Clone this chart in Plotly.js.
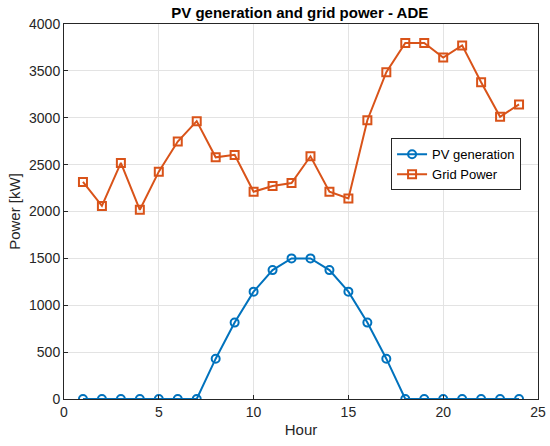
<!DOCTYPE html>
<html>
<head>
<meta charset="utf-8">
<script src="https://cdn.plot.ly/plotly-3.0.1.min.js"></script>
<style>html,body{margin:0;padding:0;background:#fff;}#chart{width:550px;height:446px;}</style>
</head>
<body>
<div id="chart"></div>
<script>
var hours = [1,2,3,4,5,6,7,8,9,10,11,12,13,14,15,16,17,18,19,20,21,22,23,24];
var pvGeneration = [0,0,0,0,0,0,0,430,815,1145,1375,1500,1500,1375,1145,815,430,0,0,0,0,0,0,0];
var gridPower = [2315,2060,2518,2018,2425,2746,2964,2578,2604,2211,2272,2304,2589,2211,2139,2974,3486,3797,3797,3643,3772,3379,3011,3142];
var xTicks = [0,5,10,15,20,25];
var yTicks = [0,500,1000,1500,2000,2500,3000,3500,4000];

var blue = '#0072BD', orange = '#D95319';
var traces = [
  {x: hours, y: pvGeneration, name: 'PV generation', type: 'scatter', mode: 'lines+markers',
   line: {color: blue, width: 2}, marker: {symbol: 'circle-open', size: 8, color: blue, line: {width: 2, color: blue}}},
  {x: hours, y: gridPower, name: 'Grid Power', type: 'scatter', mode: 'lines+markers',
   line: {color: orange, width: 2}, marker: {symbol: 'square-open', size: 8, color: orange, line: {width: 2, color: orange}}}
];
var axisCommon = {
  showline: true, mirror: true, linecolor: '#262626', linewidth: 1,
  ticks: 'inside', ticklen: 4, tickcolor: '#262626',
  showgrid: true, gridcolor: '#e3e3e3', gridwidth: 1, zeroline: false,
  tickfont: {family: 'Liberation Sans, Arial, sans-serif', size: 14, color: '#262626'}
};
var layout = {
  width: 550, height: 446,
  margin: {l: 64, r: 12, t: 24, b: 47},
  paper_bgcolor: '#fff', plot_bgcolor: '#fff',
  title: {text: '<b>PV generation and grid power - ADE</b>', x: 0.545, xanchor: 'center', y: 0.972, yanchor: 'middle',
          font: {family: 'Liberation Sans, Arial, sans-serif', size: 15, color: '#000'}},
  xaxis: Object.assign({}, axisCommon, {range: [0, 25], tickvals: xTicks,
          title: {text: 'Hour', standoff: 5, font: {family: 'Liberation Sans, Arial, sans-serif', size: 15, color: '#262626'}}}),
  yaxis: Object.assign({}, axisCommon, {range: [0, 4000], tickvals: yTicks,
          title: {text: 'Power [kW]', standoff: 4, font: {family: 'Liberation Sans, Arial, sans-serif', size: 15, color: '#262626'}}}),
  showlegend: true,
  legend: {x: 0.69, y: 0.695, xanchor: 'left', yanchor: 'top', bgcolor: '#fff', bordercolor: '#262626', borderwidth: 1,
           font: {family: 'Liberation Sans, Arial, sans-serif', size: 13, color: '#000'}, tracegroupgap: 0}
};
Plotly.newPlot('chart', traces, layout, {displayModeBar: false, staticPlot: true});
</script>
</body>
</html>
